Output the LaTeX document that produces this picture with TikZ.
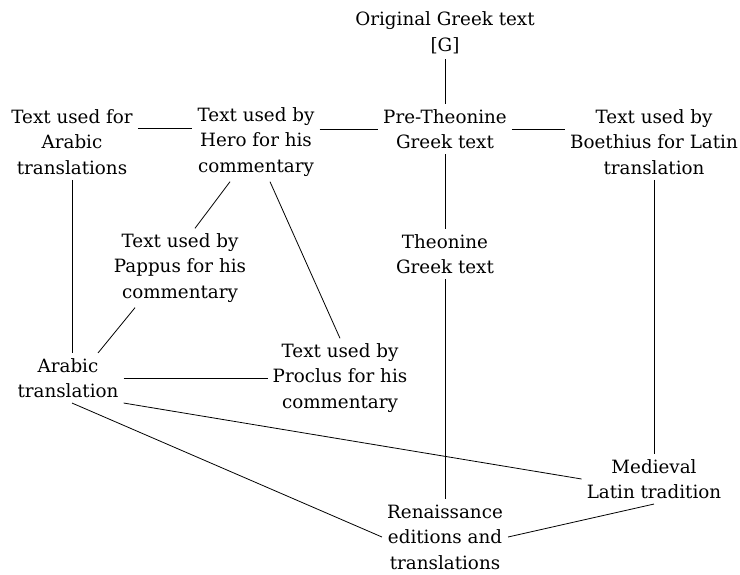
\documentclass[tikz,border=0pt]{standalone}
\usepackage{fontspec}
\setmainfont{DejaVu Serif}
\usepackage{tikz}

\begin{document}
\begin{tikzpicture}
[-,thin,x=1pt,y=1pt,%
  lineDecorate/.style={-,line width=0.8pt},%
  nodeDecorate/.style={align=center,inner sep=5pt,font=\fontsize{18.3}{25.5}\selectfont}]
\useasboundingbox (0,0) rectangle (740,-574);
%% nodes
\foreach \nodename/\x/\y/\body in {
  orig/445/-33/{Original Greek text\\{[G]}},
  pre/445/-129/{Pre-Theonine\\Greek text},
  arabtext/72/-142/{Text used for\\Arabic\\translations},
  hero/256/-142/{Text used by\\Hero for his\\commentary},
  boeth/654/-142/{Text used by\\Boethius for Latin\\translation},
  pappus/180/-268/{Text used by\\Pappus for his\\commentary},
  theon/445/-254/{Theonine\\Greek text},
  arabtr/68/-378/{Arabic\\translation},
  proclus/340/-378/{Text used by\\Proclus for his\\commentary},
  medieval/654/-479/{Medieval\\Latin tradition},
  renais/445/-537/{Renaissance\\editions and\\translations}}
{
  \node[nodeDecorate] (\nodename) at (\x,\y) {\body};
}
%% connect the texts
\path
(orig) edge[lineDecorate] (pre)
([yshift=14pt]arabtext.east) edge[lineDecorate] ([yshift=14pt]hero.west)
([yshift=13pt]hero.east) edge[lineDecorate] (pre.west)
(pre.east) edge[lineDecorate] ([yshift=13pt]boeth.west)
(arabtext.south) edge[lineDecorate] (arabtext.south |- arabtr.north)
([xshift=-26pt]hero.south) edge[lineDecorate] ([xshift=15pt]pappus.north)
([xshift=14pt]hero.south) edge[lineDecorate] (proclus.north)
([xshift=-45pt]pappus.south) edge[lineDecorate] ([xshift=30pt]arabtr.north)
(arabtr.east) edge[lineDecorate] (proclus.west)
(arabtr.south east) edge[lineDecorate] (medieval.west)
([xshift=4pt]arabtr.south) edge[lineDecorate] (renais.west)
(pre) edge[lineDecorate] (theon)
(theon) edge[lineDecorate] (renais)
(boeth) edge[lineDecorate] (medieval)
(medieval.south) edge[lineDecorate] (renais.east);
\end{tikzpicture}
\end{document}
